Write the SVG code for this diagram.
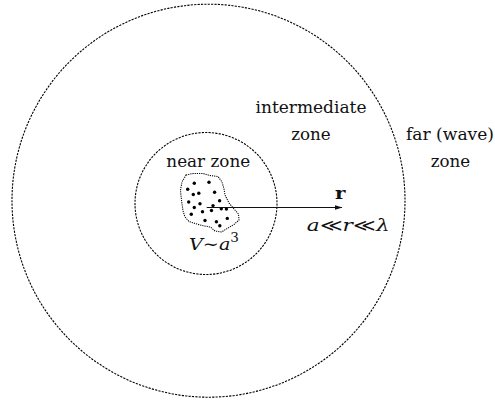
<svg xmlns="http://www.w3.org/2000/svg" width="495" height="402" viewBox="0 0 495 402">
<style>
.zone{fill:none;stroke:#000;stroke-width:1.1;stroke-dasharray:2.2 1.2}
.blob{fill:none;stroke:#000;stroke-width:1.05;stroke-dasharray:1.2 1}
.t{font-family:'DejaVu Serif',serif;font-size:17px;fill:#111}
.m{font-family:'DejaVu Serif',serif;font-size:17px;fill:#111}
.dot{fill:#000}
</style>
<defs>
<marker id="ah" markerWidth="8" markerHeight="6" refX="7.5" refY="3" orient="auto" markerUnits="userSpaceOnUse">
<path d="M0,0.6 L8,3 L0,5.4 Z" fill="#111"/>
</marker>
</defs>
<rect width="495" height="402" fill="#fff"/>
<g id="far-zone">
<circle class="zone" cx="208.5" cy="200.7" r="196.5"/>
<text class="t" x="450" y="140" text-anchor="middle" textLength="88" lengthAdjust="spacingAndGlyphs">far (wave)</text>
<text class="t" x="450.5" y="166.7" text-anchor="middle" textLength="39.5" lengthAdjust="spacingAndGlyphs">zone</text>
</g>
<g id="intermediate-zone">
<text class="t" x="311" y="112.5" text-anchor="middle" textLength="111" lengthAdjust="spacingAndGlyphs">intermediate</text>
<text class="t" x="311" y="140" text-anchor="middle" textLength="39.5" lengthAdjust="spacingAndGlyphs">zone</text>
</g>
<g id="near-zone">
<circle class="zone" cx="206" cy="203.5" r="71"/>
<text class="t" x="208.3" y="167" text-anchor="middle" textLength="84" lengthAdjust="spacingAndGlyphs">near zone</text>
</g>
<g id="source">
<path class="blob" d="M186,175 L193,173.5 L203,173.5 L210,175.5 L218,176.5 L222,182 L224,189 L225,195 L229,203 L234,209 L238.5,214 L239,220 L234,224.5 L228,228 L221.5,232 L215,231 L210.5,227 L202,225.5 L195,223.5 L189,221.5 L185,217 L183,211 L182,204 L181,196 L180.5,190 L182,182 Z"/>
<g class="dot">
<circle cx="194.3" cy="183.3" r="1.7"/>
<circle cx="209" cy="182.3" r="1.7"/>
<circle cx="187.7" cy="189.3" r="1.7"/>
<circle cx="193.3" cy="194.5" r="1.7"/>
<circle cx="198.8" cy="193.3" r="1.7"/>
<circle cx="214.6" cy="192.3" r="1.7"/>
<circle cx="188.7" cy="202" r="1.7"/>
<circle cx="200" cy="203.7" r="1.7"/>
<circle cx="219.6" cy="200.7" r="1.7"/>
<circle cx="194.3" cy="207.5" r="1.7"/>
<circle cx="213" cy="205.6" r="1.7"/>
<circle cx="211.5" cy="210.5" r="1.7"/>
<circle cx="221.3" cy="208.8" r="1.7"/>
<circle cx="226.4" cy="209" r="1.7"/>
<circle cx="191.3" cy="214.2" r="1.7"/>
<circle cx="202.5" cy="211.7" r="1.7"/>
<circle cx="205" cy="220.5" r="1.7"/>
<circle cx="227.3" cy="218.4" r="1.7"/>
<circle cx="216.4" cy="221.7" r="1.7"/>
<circle cx="219.8" cy="225.8" r="1.7"/>
</g>
<text class="m" x="189" y="250" textLength="50" lengthAdjust="spacingAndGlyphs"><tspan font-style="italic">V</tspan><tspan>∼</tspan><tspan font-style="italic">a</tspan><tspan font-size="12" dy="-8">3</tspan></text>
</g>
<g id="connectors">
<line x1="206.7" y1="207.5" x2="342" y2="207.5" stroke="#111" stroke-width="1.2" marker-end="url(#ah)"/>
</g>
<g id="labels">
<text class="t" x="335" y="199" font-weight="bold" textLength="10.5" lengthAdjust="spacingAndGlyphs">r</text>
<text class="m" x="306.7" y="231" textLength="83" lengthAdjust="spacingAndGlyphs"><tspan font-style="italic">a</tspan><tspan>≪</tspan><tspan font-style="italic">r</tspan><tspan>≪</tspan><tspan font-style="italic">λ</tspan></text>
</g>
</svg>
